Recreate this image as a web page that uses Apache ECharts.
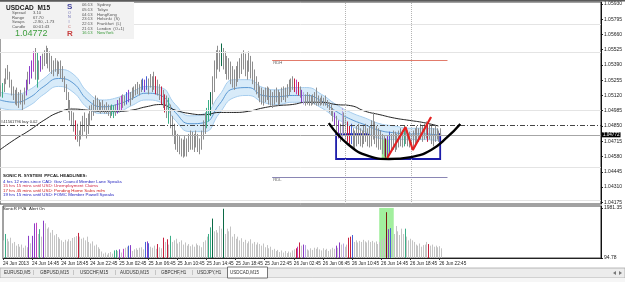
<!DOCTYPE html>
<html>
<head>
<meta charset="utf-8">
<script src="https://cdn.jsdelivr.net/npm/echarts@6/dist/echarts.min.js"></script>
<style>
html, body { margin: 0; padding: 0; background: #fff; }
#main { width: 625px; height: 282px; }
</style>
</head>
<body>
<div id="main"></div>
<script>
// USDCAD M15 bars, 24 Jun 10:45 .. 26 Jun 23:00
var barHigh = [
  1.0521,1.0523,1.0527,1.0536,1.0539,1.0533,1.0526,1.0520,1.0517,1.0519,
  1.0515,1.0517,1.0513,1.0519,1.0526,1.0533,1.0538,1.0543,1.0551,1.0554,
  1.0550,1.0543,1.0547,1.0549,1.0552,1.0556,1.0554,1.0551,1.0547,1.0543,
  1.0545,1.0543,1.0542,1.0543,1.0538,1.0529,1.0522,1.0515,1.0508,1.0501,
  1.0497,1.0490,1.0487,1.0481,1.0489,1.0494,1.0497,1.0492,1.0496,1.0503,
  1.0504,1.0508,1.0512,1.0510,1.0508,1.0506,1.0508,1.0504,1.0506,1.0504,
  1.0503,1.0504,1.0503,1.0504,1.0508,1.0510,1.0512,1.0513,1.0512,1.0515,
  1.0517,1.0515,1.0519,1.0520,1.0522,1.0524,1.0522,1.0526,1.0527,1.0526,
  1.0529,1.0527,1.0531,1.0529,1.0533,1.0529,1.0526,1.0522,1.0520,1.0517,
  1.0513,1.0512,1.0510,1.0504,1.0494,1.0487,1.0481,1.0478,1.0476,1.0474,
  1.0473,1.0476,1.0474,1.0478,1.0481,1.0480,1.0478,1.0481,1.0478,1.0474,
  1.0481,1.0490,1.0497,1.0501,1.0508,1.0515,1.0529,1.0543,1.0552,1.0556,
  1.0552,1.0558,1.0554,1.0551,1.0547,1.0545,1.0542,1.0538,1.0535,1.0538,
  1.0542,1.0545,1.0549,1.0552,1.0549,1.0543,1.0551,1.0547,1.0542,1.0535,
  1.0529,1.0524,1.0520,1.0519,1.0517,1.0519,1.0520,1.0519,1.0517,1.0515,
  1.0517,1.0519,1.0517,1.0515,1.0519,1.0520,1.0519,1.0522,1.0526,1.0527,
  1.0529,1.0527,1.0526,1.0524,1.0520,1.0517,1.0515,1.0513,1.0515,1.0513,
  1.0512,1.0513,1.0515,1.0519,1.0512,1.0510,1.0512,1.0510,1.0512,1.0508,
  1.0506,1.0504,1.0501,1.0497,1.0494,1.0490,1.0487,1.0501,1.0497,1.0492,
  1.0489,1.0485,1.0487,1.0483,1.0481,1.0485,1.0487,1.0483,1.0481,1.0485,
  1.0487,1.0483,1.0485,1.0490,1.0497,1.0489,1.0485,1.0483,1.0481,1.0478,
  1.0476,1.0474,1.0476,1.0480,1.0478,1.0481,1.0480,1.0478,1.0481,1.0483,
  1.0481,1.0485,1.0483,1.0481,1.0480,1.0478,1.0481,1.0483,1.0485,1.0483,
  1.0487,1.0485,1.0487,1.0489,1.0485,1.0487,1.0485,1.0483,1.0485,1.0483,
  1.0481,1.0483
];
var barLow = [
  1.0511,1.0510,1.0515,1.0522,1.0526,1.0519,1.0512,1.0508,1.0504,1.0503,
  1.0501,1.0504,1.0499,1.0504,1.0512,1.0517,1.0522,1.0527,1.0533,1.0526,
  1.0519,1.0526,1.0533,1.0535,1.0538,1.0540,1.0536,1.0533,1.0531,1.0529,
  1.0533,1.0529,1.0531,1.0527,1.0524,1.0515,1.0508,1.0497,1.0490,1.0485,
  1.0480,1.0473,1.0471,1.0467,1.0473,1.0476,1.0480,1.0474,1.0478,1.0485,
  1.0490,1.0494,1.0497,1.0499,1.0497,1.0496,1.0497,1.0496,1.0496,1.0494,
  1.0492,1.0494,1.0492,1.0494,1.0496,1.0497,1.0499,1.0501,1.0503,1.0504,
  1.0506,1.0503,1.0508,1.0510,1.0512,1.0513,1.0512,1.0515,1.0517,1.0515,
  1.0517,1.0513,1.0519,1.0515,1.0517,1.0513,1.0512,1.0508,1.0504,1.0501,
  1.0497,1.0492,1.0487,1.0483,1.0476,1.0469,1.0464,1.0462,1.0460,1.0458,
  1.0457,1.0458,1.0458,1.0462,1.0464,1.0464,1.0462,1.0466,1.0462,1.0460,
  1.0464,1.0473,1.0478,1.0483,1.0489,1.0494,1.0504,1.0515,1.0527,1.0535,
  1.0533,1.0538,1.0535,1.0531,1.0526,1.0526,1.0522,1.0519,1.0517,1.0520,
  1.0524,1.0527,1.0531,1.0535,1.0529,1.0526,1.0533,1.0527,1.0522,1.0517,
  1.0513,1.0510,1.0506,1.0504,1.0503,1.0506,1.0508,1.0504,1.0503,1.0501,
  1.0504,1.0506,1.0503,1.0504,1.0506,1.0508,1.0506,1.0510,1.0512,1.0515,
  1.0517,1.0515,1.0513,1.0512,1.0510,1.0506,1.0504,1.0503,1.0504,1.0503,
  1.0503,1.0504,1.0504,1.0503,1.0503,1.0503,1.0504,1.0503,1.0503,1.0501,
  1.0497,1.0494,1.0489,1.0485,1.0480,1.0474,1.0471,1.0473,1.0478,1.0473,
  1.0471,1.0467,1.0469,1.0466,1.0464,1.0467,1.0469,1.0467,1.0466,1.0469,
  1.0471,1.0467,1.0466,1.0467,1.0473,1.0469,1.0466,1.0464,1.0464,1.0460,
  1.0458,1.0457,1.0457,1.0460,1.0462,1.0464,1.0462,1.0464,1.0466,1.0467,
  1.0466,1.0467,1.0469,1.0467,1.0466,1.0464,1.0466,1.0467,1.0469,1.0471,
  1.0473,1.0471,1.0473,1.0474,1.0471,1.0473,1.0469,1.0467,1.0471,1.0473,
  1.0471,1.0476
];
// SonicR PVA volume per bar
var volume = [
  760,1000,820,720,860,650,700,560,620,520,
  600,480,560,500,930,650,930,1400,1420,1000,
  1180,900,1500,1400,1200,1250,1050,1150,950,1000,
  880,820,760,700,780,720,800,740,850,880,
  920,1040,900,820,860,760,900,700,640,720,
  560,600,500,440,340,260,300,220,280,320,
  260,380,400,360,420,300,440,480,520,560,
  580,360,420,460,400,480,500,420,700,720,
  650,520,480,560,440,620,500,460,860,700,
  800,600,930,700,760,820,640,700,760,600,
  680,560,620,540,600,520,640,580,560,500,
  700,760,900,1000,1250,1580,1100,1150,1050,1300,
  1200,1950,1000,1200,1100,1280,900,1000,820,900,
  760,840,700,780,650,720,800,640,700,600,
  680,620,560,640,500,580,460,520,400,440,
  360,400,320,380,300,360,280,340,300,380,
  420,460,520,680,560,600,580,420,380,460,
  400,480,440,500,420,380,460,400,440,360,
  420,480,440,560,480,680,600,640,520,600,
  860,900,960,700,760,680,740,700,780,720,
  680,760,700,740,680,720,620,700,760,820,
  900,1820,1180,1220,800,1000,1300,1100,960,1200,
  1000,1200,900,760,820,760,700,600,560,640,
  520,580,600,700,620,560,600,520,560,500,
  540,460
];
// PVA coloured bars: [bar index, tone]
var accentBars = [
  [1,'t'],[14,'p'],[16,'p'],[17,'p'],[18,'m'],[20,'t'],[22,'p'],[41,'r'],
  [61,'t'],[62,'t'],[64,'p'],[66,'m'],[69,'b'],[70,'p'],[78,'b'],[79,'p'],[80,'b'],
  [85,'r'],[88,'r'],[90,'r'],[92,'t'],[113,'t'],[114,'t'],[115,'d'],[121,'d'],
  [161,'r'],[162,'m'],[163,'r'],[165,'p'],[166,'l'],[183,'p'],[185,'p'],[187,'l'],
  [190,'r'],[191,'r'],[192,'b'],[211,'k'],[212,'p'],[213,'b'],[221,'t'],[234,'r']
];
// dragon band (EMA34 high / low / close) and slow EMA, sampled every 8 bars
var bandIdx = [0,8,16,24,32,40,48,56,64,72,80,88,96,104,112,120,128,136,144,152,160,168,176,184,192,200,208,216,224,232,240];
var bandUpper = [1.0515,1.0513,1.0517,1.0527,1.0535,1.0531,1.0515,1.0508,1.0510,1.0515,1.0520,1.0519,1.0504,1.0494,1.0496,1.0512,1.0526,1.0526,1.0519,1.0517,1.0519,1.0519,1.0513,1.0504,1.0497,1.0492,1.0487,1.0485,1.0483,1.0483,1.0482];
var bandLower = [1.0501,1.0499,1.0503,1.0513,1.0520,1.0515,1.0501,1.0496,1.0497,1.0503,1.0508,1.0506,1.0490,1.0480,1.0480,1.0496,1.0510,1.0512,1.0506,1.0504,1.0506,1.0506,1.0501,1.0492,1.0485,1.0480,1.0474,1.0473,1.0473,1.0473,1.0472];
var bandMid = [1.0508,1.0506,1.0510,1.0520,1.0527,1.0523,1.0508,1.0502,1.0504,1.0509,1.0514,1.0512,1.0497,1.0487,1.0488,1.0504,1.0518,1.0519,1.0512,1.0511,1.0512,1.0512,1.0507,1.0498,1.0491,1.0486,1.0481,1.0479,1.0478,1.0478,1.0477];
var emaSlow = [1.0464,1.0473,1.0481,1.0490,1.0497,1.0500,1.0499,1.0498,1.0498,1.0499,1.0502,1.0504,1.0499,1.0496,1.0495,1.0497,1.0497,1.0498,1.0501,1.0503,1.0504,1.0506,1.0506,1.0504,1.0503,1.0498,1.0495,1.0492,1.0490,1.0488,1.0485];

// drawn objects
var arcIdx = [180,191,202,213,225,236,245,252];
var arcPrice = [1.04876,1.04682,1.04584,1.04558,1.04575,1.04638,1.04753,1.04868];
var zigIdx = [212,222,226,236];
var zigPrice = [1.04567,1.04841,1.04638,1.04930];
var rdh = 1.05434, rdl = 1.04400, rdFrom = 149, rdTo = 245;
var boxFrom = 184, boxTo = 241, boxTop = 1.04779, boxBottom = 1.04558;
var greenFrom = 209, greenTo = 213, greenTop = 1.04753;
var volGreenFrom = 207, volGreenTo = 215;
var orderPrice = 1.04858, bidPrice = 1.04772;
var levelLines = [1.05753, 1.05505, 1.04992, 1.04487, 1.04195];
var sessionMarks = [189, 225];

// axes
var priceTicks = [1.0593,1.05795,1.0566,1.05525,1.0539,1.05255,1.0512,1.04985,1.0485,1.04715,1.0458,1.04445,1.0431,1.04175];
var volTicks = [94.78, 1981.35];
var tickIdx = [0,16,32,48,64,80,96,112,128,144,160,176,192,208,224,240];
var tickLabels = ['24 Jun 2013','24 Jun 14:45','24 Jun 18:45','24 Jun 22:45','25 Jun 02:45','25 Jun 06:45','25 Jun 10:45','25 Jun 14:45','25 Jun 18:45','25 Jun 22:45','26 Jun 02:45','26 Jun 06:45','26 Jun 10:45','26 Jun 14:45','26 Jun 18:45','26 Jun 22:45'];

var FONT = '"Liberation Sans", Arial, sans-serif';
var toneColor = { t:'#3aae86', d:'#0c6a46', p:'#8a3cc6', m:'#c23fc0', r:'#c81f3d', b:'#4862d6', l:'#b8a6e2', k:'#7a1c10' };
var toneAt = {};
accentBars.forEach(function (a) { toneAt[a[0]] = a[1]; });

var slots = [];
for (var s = 0; s < 330; s++) slots.push(String(s));

function pairs(xs, ys) { return xs.map(function (x, j) { return [x, ys[j]]; }); }

var chart = echarts.init(document.getElementById('main'));

function txt(x, y, t, size, color, weight) {
  return { type: 'text', x: x, y: y, silent: true, z: 20,
    style: { text: t, fontSize: size, fontFamily: FONT, fontWeight: weight || 'normal', fill: color, verticalAlign: 'middle' } };
}

var gfx = [];
gfx.push({ type: 'rect', shape: { x: 0, y: 0, width: 625, height: 1.5 }, style: { fill: '#5a5a5a' }, z: 20, silent: true });
gfx.push({ type: 'rect', shape: { x: 0, y: 2, width: 134, height: 37 }, style: { fill: '#f2f2f2' }, z: 19, silent: true });
gfx.push(txt(6, 8, 'USDCAD  M15', 6.5, '#222', 'bold'));
[['Spread','3.10',13],['Range','67.70',17.5],['Swaps','-2.90, -1.73',22],['Candle','00:01:43',26.5]].forEach(function (r) {
  gfx.push(txt(12, r[2], r[0], 4.2, '#555'));
  gfx.push(txt(33, r[2], r[1], 4.2, '#555'));
});
gfx.push(txt(15, 34, '1.04772', 9, '#3f9f3f'));
gfx.push(txt(67, 7, 'S', 8, '#45459c', 'bold'));
gfx.push(txt(68, 12.7, 'O', 3.8, '#6a6ab0'));
gfx.push(txt(68, 17, 'N', 3.8, '#6a6ab0'));
gfx.push(txt(68.5, 21.5, 'I', 3.8, '#6a6ab0'));
gfx.push(txt(68, 27, 'C', 3.8, '#c05050'));
gfx.push(txt(67, 33.5, 'R', 8, '#c84040', 'bold'));
[['06:13','Sydney',5],['05:13','Tokyo',9.7],['04:13','HongKong',14.4],['23:13','Helsinki  (S)',19.1],
 ['22:13','Frankfurt  (L)',23.8],['21:13','London  (O+1)',28.5],['16:13','NewYork',33.2]].forEach(function (r, k) {
  var c = k === 6 ? '#3a9a3a' : '#555';
  gfx.push(txt(82, r[2], r[0], 4.2, c));
  gfx.push(txt(97, r[2], r[1], 4.2, c));
});
gfx.push(txt(3, 176, 'SONIC R. SYSTEM  PFCAL HEADLINES:', 4.4, '#111', 'bold'));
gfx.push(txt(3, 182, '4 hrs 12 mins since CAD: Gov Council Member Lane Speaks', 4.4, '#2424c0'));
gfx.push(txt(3, 186.2, '15 hrs 15 mins until USD: Unemployment Claims', 4.4, '#d02a4a'));
gfx.push(txt(3, 190.4, '17 hrs 45 mins until USD: Pending Home Sales m/m', 4.4, '#d02020'));
gfx.push(txt(3, 194.6, '19 hrs 15 mins until USD: FOMC Member Powell Speaks', 4.4, '#2424c0'));
gfx.push(txt(3, 209, 'SonicR PVA', 4.3, '#222'));
gfx.push(txt(29, 209, 'Alert On', 4.3, '#222'));
// tab bar
gfx.push({ type: 'rect', shape: { x: 0, y: 268, width: 625, height: 10 }, style: { fill: '#ececec', stroke: '#a8a8a8', lineWidth: 0.8 }, z: 18, silent: true });
gfx.push({ type: 'rect', shape: { x: 0, y: 278, width: 625, height: 4 }, style: { fill: '#f6f6f6' }, z: 18, silent: true });
gfx.push({ type: 'rect', shape: { x: 227.5, y: 267, width: 40, height: 11 }, style: { fill: '#fff', stroke: '#555', lineWidth: 0.8 }, z: 19, silent: true });
[['EURUSD,M5',4],['|',33],['GBPUSD,M15',40],['|',73],['USDCHF,M15',80],['|',115],['AUDUSD,M15',120],['|',155],
 ['GBPCHF,H1',161],['|',192],['USDJPY,H1',197],['USDCAD,M15',230]].forEach(function (r) {
  gfx.push(txt(r[1], 273, r[0], 4.5, r[0] === '|' ? '#888' : '#333'));
});
gfx.push({ type: 'polygon', shape: { points: [[613, 273], [616, 271], [616, 275]] }, style: { fill: '#777' }, z: 20, silent: true });
gfx.push({ type: 'polygon', shape: { points: [[622, 273], [619, 271], [619, 275]] }, style: { fill: '#777' }, z: 20, silent: true });

var noLabel = { show: false };

chart.setOption({
  animation: false,
  backgroundColor: '#fff',
  grid: [
    { left: 0, right: 22, top: 2, height: 202, show: true, borderColor: '#444', borderWidth: 1, backgroundColor: 'transparent' },
    { left: 0, right: 22, top: 206, height: 52, show: true, borderColor: '#444', borderWidth: 1, backgroundColor: 'transparent' }
  ],
  xAxis: [
    { type: 'category', gridIndex: 0, data: slots, boundaryGap: false,
      axisLine: { show: false }, axisTick: { show: false }, axisLabel: { show: false }, splitLine: { show: false } },
    { type: 'category', gridIndex: 1, data: slots, boundaryGap: false,
      axisLine: { show: true, lineStyle: { color: '#222' } },
      axisTick: { show: true, length: 2, lineStyle: { color: '#333' },
        interval: function (i) { return tickIdx.indexOf(i) >= 0; } },
      axisLabel: { show: true, fontSize: 4.7, fontFamily: FONT, color: '#222', align: 'left', margin: 3,
        interval: function (i) { return tickIdx.indexOf(i) >= 0; },
        formatter: function (v, i) { var k = tickIdx.indexOf(i); return k >= 0 ? tickLabels[k] : ''; } },
      splitLine: { show: false } }
  ],
  yAxis: [
    { type: 'value', gridIndex: 0, position: 'right', min: 1.0416, max: 1.05947, scale: true,
      axisLine: { show: true, lineStyle: { color: '#111' } },
      axisTick: { show: true, length: 2, customValues: priceTicks, lineStyle: { color: '#111' } },
      axisLabel: { customValues: priceTicks, fontSize: 5, fontFamily: FONT, color: '#222', margin: 3,
        formatter: function (v) { return v.toFixed(5); } },
      splitLine: { show: false } },
    { type: 'value', gridIndex: 1, position: 'right', min: 94.78, max: 2054,
      axisLine: { show: true, lineStyle: { color: '#111' } },
      axisTick: { show: true, length: 2, customValues: volTicks, lineStyle: { color: '#111' } },
      axisLabel: { customValues: volTicks, fontSize: 5, fontFamily: FONT, color: '#222', margin: 3,
        formatter: function (v) { return v.toFixed(2); } },
      splitLine: { show: false } }
  ],
  graphic: { elements: gfx },
  series: [
    { name: 'band-low', type: 'line', xAxisIndex: 0, yAxisIndex: 0, stack: 'dragon', smooth: true, symbol: 'none', z: 1,
      data: pairs(bandIdx, bandLower), lineStyle: { color: '#a6cdee', width: 1 } },
    { name: 'band-fill', type: 'line', xAxisIndex: 0, yAxisIndex: 0, stack: 'dragon', smooth: true, symbol: 'none', z: 1,
      data: bandIdx.map(function (x, j) { return [x, bandUpper[j] - bandLower[j]]; }),
      lineStyle: { color: '#a6cdee', width: 1 }, areaStyle: { color: '#d8ebf9', opacity: 1 } },
    { name: 'band-mid', type: 'line', xAxisIndex: 0, yAxisIndex: 0, smooth: true, symbol: 'none', z: 2,
      data: pairs(bandIdx, bandMid), lineStyle: { color: '#5b98d2', width: 1 },
      markArea: { silent: true, itemStyle: { color: '#9ff09a' }, label: noLabel,
        data: [[{ coord: [greenFrom, greenTop] }, { coord: [greenTo, boxBottom] }]] } },
    { name: 'ema-slow', type: 'line', xAxisIndex: 0, yAxisIndex: 0, smooth: true, symbol: 'none', z: 3,
      data: pairs(bandIdx, emaSlow), lineStyle: { color: '#222', width: 1 },
      markLine: { silent: true, precision: 5, symbol: ['none', 'none'], label: noLabel,
        data: levelLines.map(function (p) { return { yAxis: p, lineStyle: { color: '#e4e4e4', width: 1, type: 'solid' } }; })
          .concat(sessionMarks.map(function (i) { return { xAxis: i, lineStyle: { color: '#b4b4b4', width: 1, type: 'dotted' } }; }))
          .concat([
            { yAxis: orderPrice, lineStyle: { color: '#444', width: 1, type: [5, 2, 1, 2] },
              label: { show: true, position: 'insideStartTop', formatter: '#41561796 buy 0.02', fontSize: 4, fontFamily: FONT, color: '#333', distance: 1 } },
            { yAxis: bidPrice, lineStyle: { color: '#a6a6a6', width: 1, type: 'solid' },
              label: { show: true, position: 'end', formatter: '1.04772', fontSize: 4.6, fontFamily: FONT, color: '#fff',
                backgroundColor: '#000', padding: [0, 1, 0, 1], distance: 1 } },
            [{ coord: [rdFrom, rdh], lineStyle: { color: '#e27b6b', width: 1, type: 'solid' },
               label: { show: true, position: 'insideStartBottom', formatter: 'RDH', fontSize: 4.3, fontFamily: FONT, color: '#666', distance: 1 } },
             { coord: [rdTo, rdh] }],
            [{ coord: [rdFrom, rdl], lineStyle: { color: '#8a86b4', width: 1, type: 'solid' },
               label: { show: true, position: 'insideStartBottom', formatter: 'RDL', fontSize: 4.3, fontFamily: FONT, color: '#666', distance: 1 } },
             { coord: [rdTo, rdl] }]
          ]) } },
    { name: 'price', type: 'custom', xAxisIndex: 0, yAxisIndex: 0, z: 4,
      data: barHigh.map(function (h, i) { return [i, h, barLow[i]]; }),
      encode: { x: 0, y: [1, 2] },
      renderItem: function (params, api) {
        var i = api.value(0);
        var top = api.coord([i, api.value(1)]);
        var bot = api.coord([i, api.value(2)]);
        var x = Math.round(top[0]) + 0.5;
        var c = toneAt[i] ? toneColor[toneAt[i]] : '#8e8e8e';
        return { type: 'line', shape: { x1: x, y1: top[1], x2: x, y2: bot[1] }, style: { stroke: c, lineWidth: 1 } };
      } },
    { name: 'arc', type: 'line', xAxisIndex: 0, yAxisIndex: 0, smooth: true, symbol: 'none', z: 6,
      data: pairs(arcIdx, arcPrice), lineStyle: { color: '#000', width: 2.4 },
      markArea: { silent: true, label: noLabel, itemStyle: { color: 'rgba(0,0,0,0)', borderColor: '#1c1caa', borderWidth: 1.8 },
        data: [[{ coord: [boxFrom, boxTop] }, { coord: [boxTo, boxBottom] }]] } },
    { name: 'zigzag', type: 'line', xAxisIndex: 0, yAxisIndex: 0, symbol: 'none', z: 7,
      data: pairs(zigIdx, zigPrice), lineStyle: { color: '#e32222', width: 2.2 } },
    { name: 'pva', type: 'custom', xAxisIndex: 1, yAxisIndex: 1, z: 4,
      data: volume.map(function (v, i) { return [i, v]; }),
      encode: { x: 0, y: 1 },
      markArea: { silent: true, label: noLabel, itemStyle: { color: '#a2ef9e' },
        data: [[{ coord: [volGreenFrom, volTicks[1]] }, { coord: [volGreenTo, volTicks[0]] }]] },
      renderItem: function (params, api) {
        var i = api.value(0);
        var top = api.coord([i, api.value(1)]);
        var bot = api.coord([i, volTicks[0]]);
        var x = Math.round(top[0]) + 0.5;
        var c = toneAt[i] ? toneColor[toneAt[i]] : '#c4c4c4';
        return { type: 'line', shape: { x1: x, y1: top[1], x2: x, y2: bot[1] }, style: { stroke: c, lineWidth: 1 } };
      } }
  ]
});
</script>
</body>
</html>
